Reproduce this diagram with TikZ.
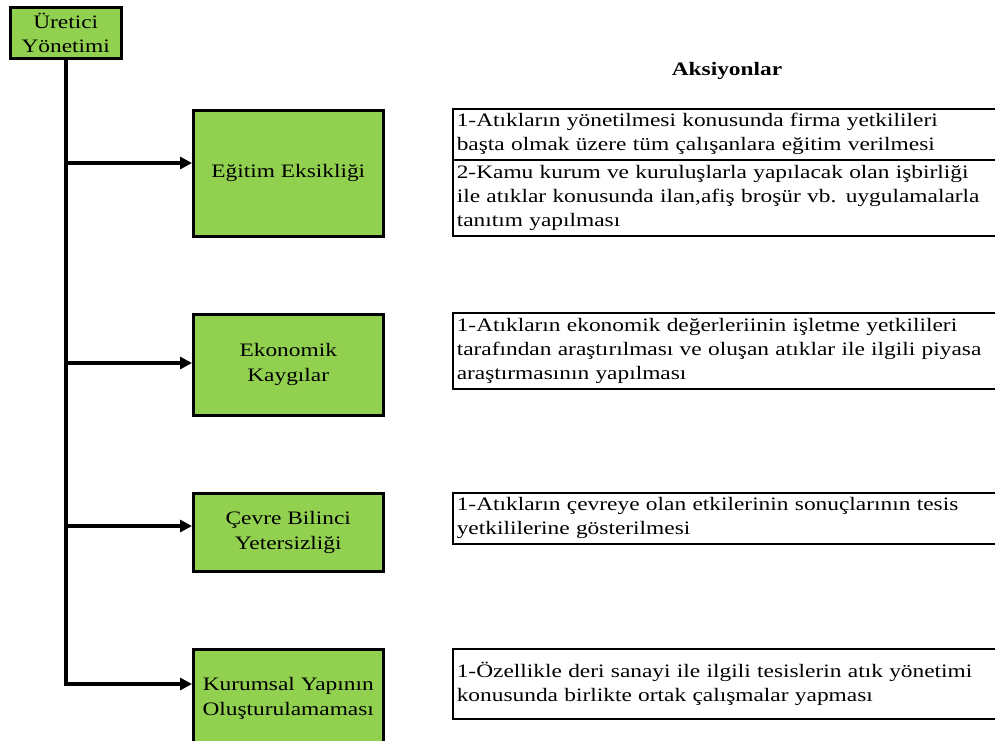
\documentclass[tikz,border=0pt]{standalone}
\usepackage{fontspec}
\setmainfont{Liberation Serif}[FakeStretch=1.23]
\usetikzlibrary{arrows.meta}
\definecolor{leaf}{HTML}{92D050}
\begin{document}
\begin{tikzpicture}[x=1pt,y=-1pt,
    cause/.style={draw,line width=2.5pt,fill=leaf,anchor=north west,minimum width=190pt,align=center,font=\fontsize{19}{25}\selectfont},
    action/.style={draw,line width=1.6pt,anchor=north west,text width=580pt,align=left,inner xsep=4pt,inner ysep=0pt,font=\fontsize{19}{24}\selectfont},
    branch/.style={line width=4pt,-{Triangle[length=12pt,width=12pt]}}]
    \clip (0,0) rectangle (995,740);
    \node[cause,minimum width=111pt,minimum height=51pt,inner sep=1pt,font=\fontsize{19}{24}\selectfont] (root) at (9,6) {Üretici\\Yönetimi};
    \node[font=\bfseries\fontsize{19}{22}\selectfont] (head) at (727,71) {Aksiyonlar};
    \node[cause,minimum height=126pt] (egitim) at (192,109) {Eğitim Eksikliği};
    \node[cause,minimum height=101pt] (ekonomi) at (192,313) {Ekonomik\\Kaygılar};
    \node[cause,minimum height=78pt] (cevre) at (192,492) {Çevre Bilinci\\Yetersizliği};
    \node[cause,minimum height=98pt] (kurum) at (192,648) {Kurumsal Yapının\\Oluşturulamaması};
    \node[action,minimum height=51pt] (egitimA) at (452,108) {1-Atıkların yönetilmesi konusunda firma yetkilileri\\başta olmak üzere tüm çalışanlara eğitim verilmesi};
    \node[action,minimum height=76pt] (egitimB) at (452,159) {2-Kamu kurum ve kuruluşlarla yapılacak olan işbirliği\\ile atıklar konusunda ilan,afiş broşür vb. uygulamalarla\\tanıtım yapılması};
    \node[action,minimum height=76pt] (ekonomiA) at (452,312) {1-Atıkların ekonomik değerleriinin işletme yetkilileri\\tarafından araştırılması ve oluşan atıklar ile ilgili piyasa\\araştırmasının yapılması};
    \node[action,minimum height=51pt] (cevreA) at (452,492) {1-Atıkların çevreye olan etkilerinin sonuçlarının tesis\\yetkililerine gösterilmesi};
    \node[action,minimum height=70pt] (kurumA) at (452,648) {1-Özellikle deri sanayi ile ilgili tesislerin atık yönetimi\\konusunda birlikte ortak çalışmalar yapması};
    \draw[branch] (root.south) |- (kurum.west |- 0,684);
    \draw[branch] (root.south |- 0,163) -- (egitim.west |- 0,163);
    \draw[branch] (root.south |- 0,363) -- (ekonomi.west |- 0,363);
    \draw[branch] (root.south |- 0,526) -- (cevre.west |- 0,526);
\end{tikzpicture}
\end{document}
